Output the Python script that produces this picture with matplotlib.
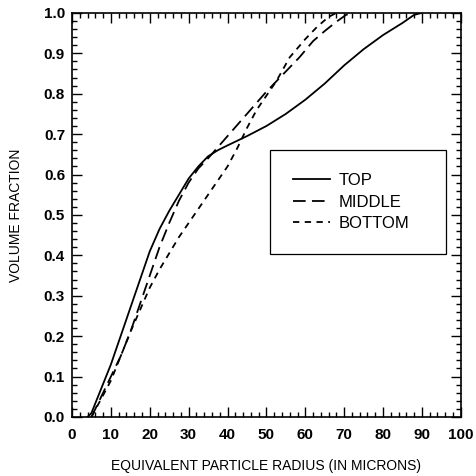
import matplotlib
matplotlib.use("Agg")
import matplotlib.pyplot as plt
from matplotlib.ticker import MultipleLocator, FormatStrFormatter

plt.rcParams['font.family'] = ['Liberation Sans', 'DejaVu Sans']

# cumulative volume fraction vs. equivalent radius (microns)
top_r = [4, 5, 7.5, 10, 12.5, 15, 17.5, 20, 22.5, 25, 27.5, 30, 32.5, 35, 37.5, 40,
         45, 50, 55, 60, 65, 70, 75, 80, 85, 88, 90]
top_v = [0.0, 0.01, 0.07, 0.13, 0.20, 0.27, 0.34, 0.41, 0.465, 0.51, 0.55, 0.59, 0.62,
         0.645, 0.66, 0.672, 0.695, 0.72, 0.75, 0.785, 0.825, 0.87, 0.91, 0.945, 0.975,
         0.995, 1.0]

mid_r = [5, 7.5, 10, 12.5, 15, 17.5, 20, 22.5, 25, 27.5, 30, 32.5, 35, 40, 45, 50,
         52.5, 55, 58.5, 62, 65, 68, 70.5, 72]
mid_v = [0.0, 0.05, 0.10, 0.15, 0.21, 0.28, 0.35, 0.42, 0.48, 0.535, 0.58, 0.615, 0.64,
         0.695, 0.75, 0.805, 0.83, 0.855, 0.89, 0.93, 0.955, 0.978, 0.995, 1.0]

bot_r = [5, 7.5, 10, 12.5, 15, 17.5, 20, 22.5, 25, 27.5, 30, 32.5, 35, 37.5, 40, 42.5,
         45, 47.5, 50, 52.5, 56, 60, 63, 66, 68]
bot_v = [0.0, 0.045, 0.09, 0.15, 0.21, 0.265, 0.32, 0.365, 0.405, 0.445, 0.48, 0.515,
         0.55, 0.585, 0.62, 0.665, 0.715, 0.76, 0.795, 0.83, 0.89, 0.935, 0.965, 0.99, 1.0]

fig = plt.figure(figsize=(4.77, 4.76), dpi=100)
ax = fig.add_axes([0.151, 0.124, 0.815, 0.849])

ax.plot(top_r, top_v, color='black', lw=1.3, label='TOP')
ax.plot(mid_r, mid_v, color='black', lw=1.3, dashes=(7, 3.5), label='MIDDLE')
ax.plot(bot_r, bot_v, color='black', lw=1.3, dashes=(3.5, 3), label='BOTTOM')

ax.set_xlim(0, 100)
ax.set_ylim(0, 1.0)
ax.xaxis.set_major_locator(MultipleLocator(10))
ax.xaxis.set_minor_locator(MultipleLocator(2))
ax.yaxis.set_major_locator(MultipleLocator(0.1))
ax.yaxis.set_minor_locator(MultipleLocator(0.02))
ax.yaxis.set_major_formatter(FormatStrFormatter('%.1f'))
ax.tick_params(which='both', direction='in', top=True, right=True, width=1.0,
               labelsize=11)
ax.tick_params(axis='x', pad=8)
ax.tick_params(axis='y', pad=5)
ax.tick_params(which='major', length=7)
ax.tick_params(which='minor', length=3.5)
for lab in ax.get_xticklabels() + ax.get_yticklabels():
    lab.set_fontweight('bold')
for s in ax.spines.values():
    s.set_linewidth(1.2)

ax.set_xlabel('EQUIVALENT PARTICLE RADIUS (IN MICRONS)', fontsize=10, labelpad=12)
ax.set_ylabel('VOLUME FRACTION', fontsize=10, labelpad=15)

leg = ax.legend(loc='upper left', bbox_to_anchor=(0.509, 0.418, 0.452, 0.243),
                mode='expand', fontsize=12, handlelength=2.2, handletextpad=0.5,
                labelspacing=0.38, borderpad=1.4, borderaxespad=0,
                fancybox=False, edgecolor='black', framealpha=1)
leg.get_frame().set_linewidth(0.9)

fig.savefig('out.png', dpi=100)
